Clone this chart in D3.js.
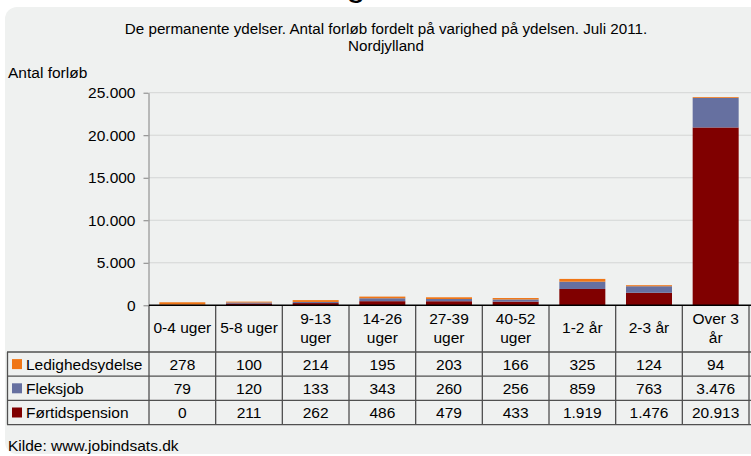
<!DOCTYPE html>
<html><head><meta charset="utf-8">
<script src="https://cdn.jsdelivr.net/npm/d3@7/dist/d3.min.js"></script>
<style>
html,body{margin:0;padding:0;background:#fff;}
svg{display:block;font-family:"Liberation Sans",Arial,sans-serif;}
</style></head>
<body>
<svg id="c" width="751" height="456"></svg>
<script>
const categories = ["0-4 uger","5-8 uger","9-13\nuger","14-26\nuger","27-39\nuger","40-52\nuger","1-2 år","2-3 år","Over 3\når"];
const seriesNames = ["Ledighedsydelse","Fleksjob","Førtidspension"];
const ledighedsydelse = [278,100,214,195,203,166,325,124,94];
const fleksjob = [79,120,133,343,260,256,859,763,3476];
const fortidspension = [0,211,262,486,479,433,1919,1476,20913];
const yTicks = [0,5000,10000,15000,20000,25000];
const colors = ["#f07616","#6670a0","#800000"];
const titleLines = ["De permanente ydelser. Antal forløb fordelt på varighed på ydelsen. Juli 2011.","Nordjylland"];

const svg = d3.select("#c");
const fs = 15.5;
const loc = d3.formatLocale({decimal:",",thousands:".",grouping:[3],currency:["","kr"]});
const fmt = loc.format(",d");

// panel
svg.append("rect").attr("x",5).attr("y",7).attr("width",770).attr("height",447).attr("rx",12).attr("fill","#eff1f0");
// cut-off heading glyph
svg.append("text").attr("x",356).attr("y",-4).attr("text-anchor","middle").attr("font-size",34).attr("fill","#000").text("g");

// title
svg.append("g").selectAll("text").data(titleLines).join("text")
  .attr("x",386).attr("y",(d,i)=>34+i*17).attr("text-anchor","middle")
  .attr("font-size",15.2).attr("fill","#000").text(d=>d);
svg.append("text").attr("x",8).attr("y",78).attr("font-size",fs).text("Antal forløb");

const x0 = 149, x1 = 749;
const x = d3.scaleBand().domain(categories).range([x0,x1]).padding(0);
const y = d3.scaleLinear().domain([0,25000]).range([305.3,92.7]);

// gridlines
svg.append("g").selectAll("line").data(yTicks.slice(1)).join("line")
  .attr("x1",x0).attr("x2",751).attr("y1",d=>y(d)).attr("y2",d=>y(d))
  .attr("stroke","#d4d6d5").attr("stroke-width",1);

// y axis
const yAxis = d3.axisLeft(y).tickValues(yTicks).tickFormat(fmt).tickSize(5).tickSizeOuter(0).tickPadding(8);
const ga = svg.append("g").attr("transform",`translate(${148.5},0)`).call(yAxis);
ga.select(".domain").attr("stroke","#808080");
ga.selectAll(".tick line").attr("stroke","#808080");
ga.selectAll(".tick text").attr("font-size",fs).attr("fill","#000").attr("font-family","Liberation Sans, Arial, sans-serif");

// stacked bars
const rows = categories.map((c,i)=>({cat:c, Førtidspension:fortidspension[i], Fleksjob:fleksjob[i], Ledighedsydelse:ledighedsydelse[i]}));
const stack = d3.stack().keys(["Førtidspension","Fleksjob","Ledighedsydelse"])(rows);
const colorOf = {Ledighedsydelse:colors[0],Fleksjob:colors[1],Førtidspension:colors[2]};
const bw = x.bandwidth()*0.69;
svg.append("g").selectAll("g").data(stack).join("g").attr("fill",d=>colorOf[d.key])
  .selectAll("rect").data(d=>d).join("rect")
  .attr("x",d=>x(d.data.cat)+(x.bandwidth()-bw)/2).attr("width",bw)
  .attr("y",d=>y(d[1])).attr("height",d=>Math.max(0,y(d[0])-y(d[1])));

// table
const tb = svg.append("g");
const hTop = 305.3, hBot = 352, rowH = 24.2;
const lineCol = "#505050";
categories.forEach(c=>{
  const lines = c.split("\n");
  const cx = x(c)+x.bandwidth()/2;
  const t = tb.append("text").attr("text-anchor","middle").attr("font-size",fs).attr("fill","#000");
  lines.forEach((l,j)=>{
    const cy = lines.length===1 ? 328 : 319 + j*19;
    t.append("tspan").attr("x",cx).attr("y",cy).attr("dy","0.35em").text(l);
  });
});
const bounds = categories.map(c=>x(c)).concat([x1]);
tb.selectAll("line.v").data(bounds).join("line").attr("class","v")
  .attr("x1",d=>d).attr("x2",d=>d).attr("y1",hTop).attr("y2",hBot+3*rowH)
  .attr("stroke",lineCol).attr("stroke-width",1.3);
tb.append("line").attr("x1",7.5).attr("x2",7.5).attr("y1",hBot).attr("y2",hBot+3*rowH).attr("stroke",lineCol).attr("stroke-width",1.3);
tb.selectAll("line.h").data([0,1,2,3]).join("line").attr("class","h")
  .attr("x1",7).attr("x2",751).attr("y1",d=>hBot+d*rowH).attr("y2",d=>hBot+d*rowH)
  .attr("stroke",lineCol).attr("stroke-width",1.3);
svg.append("line").attr("x1",x0).attr("x2",751).attr("y1",hTop).attr("y2",hTop).attr("stroke","#000").attr("stroke-width",1.5);

const seriesData = [ledighedsydelse,fleksjob,fortidspension];
seriesNames.forEach((name,i)=>{
  const cy = hBot + i*rowH + rowH/2;
  tb.append("rect").attr("x",12).attr("y",cy-5).attr("width",10).attr("height",10).attr("fill",colors[i]);
  tb.append("text").attr("x",26).attr("y",cy).attr("dy","0.35em").attr("font-size",fs).attr("fill","#000").text(name);
  seriesData[i].forEach((v,k)=>{
    tb.append("text").attr("x",x(categories[k])+x.bandwidth()/2).attr("y",cy).attr("dy","0.35em")
      .attr("text-anchor","middle").attr("font-size",fs).attr("fill","#000").text(fmt(v));
  });
});

svg.append("text").attr("x",8).attr("y",451).attr("font-size",fs).attr("fill","#000").text("Kilde: www.jobindsats.dk");
</script>
</body></html>
